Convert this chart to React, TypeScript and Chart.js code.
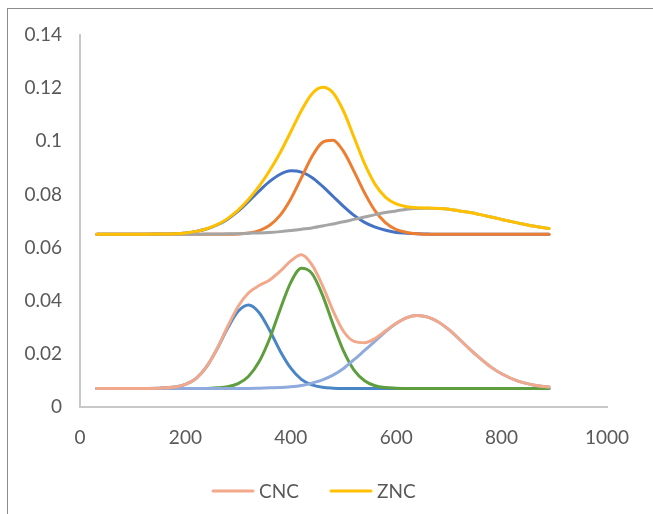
import React, { useEffect, useRef } from 'react';
import { Chart, registerables } from 'chart.js';

Chart.register(...registerables);

// x positions of the sampled points
const X_VALUES = [32, 100, 150, 180, 200, 220, 240, 260, 280, 300, 320, 340, 360, 380, 400, 420, 440, 460, 480, 500, 520, 540, 560, 580, 600, 620, 640, 660, 680, 700, 720, 740, 760, 780, 800, 830, 860, 890];

// CNC (total) and its three components
const CNC = [0.0070, 0.0070, 0.0071, 0.0075, 0.0085, 0.0107, 0.0151, 0.0219, 0.0302, 0.0378, 0.0430, 0.0457, 0.0478, 0.0511, 0.0550, 0.0573, 0.0536, 0.0458, 0.0363, 0.0285, 0.0247, 0.0242, 0.0258, 0.0287, 0.0315, 0.0336, 0.0344, 0.0338, 0.0320, 0.0291, 0.0255, 0.0217, 0.0182, 0.0150, 0.0125, 0.0098, 0.0083, 0.0075];
const CNC_PEAK_1 = [0.0070, 0.0070, 0.0071, 0.0075, 0.0085, 0.0107, 0.0151, 0.0218, 0.0296, 0.0360, 0.0384, 0.0355, 0.0288, 0.0210, 0.0146, 0.0104, 0.0083, 0.0074, 0.0071, 0.0070, 0.0070, 0.0070, 0.0070, 0.0070, 0.0070, 0.0070, 0.0070, 0.0070, 0.0070, 0.0070, 0.0070, 0.0070, 0.0070, 0.0070, 0.0070, 0.0070, 0.0070, 0.0070];
const CNC_PEAK_2 = [0.0070, 0.0070, 0.0070, 0.0070, 0.0070, 0.0070, 0.0070, 0.0072, 0.0076, 0.0088, 0.0116, 0.0171, 0.0258, 0.0368, 0.0469, 0.0522, 0.0503, 0.0422, 0.0312, 0.0211, 0.0139, 0.0099, 0.0080, 0.0073, 0.0071, 0.0070, 0.0070, 0.0070, 0.0070, 0.0070, 0.0070, 0.0070, 0.0070, 0.0070, 0.0070, 0.0070, 0.0070, 0.0070];
const CNC_PEAK_3 = [0.0070, 0.0070, 0.0070, 0.0070, 0.0070, 0.0070, 0.0070, 0.0070, 0.0070, 0.0070, 0.0070, 0.0071, 0.0072, 0.0073, 0.0076, 0.0081, 0.0090, 0.0102, 0.0120, 0.0145, 0.0178, 0.0213, 0.0248, 0.0284, 0.0314, 0.0336, 0.0344, 0.0338, 0.0320, 0.0291, 0.0255, 0.0217, 0.0182, 0.0150, 0.0125, 0.0098, 0.0083, 0.0075];

// ZNC (total) and its three components
const ZNC = [0.0650, 0.0650, 0.0651, 0.0652, 0.0655, 0.0661, 0.0671, 0.0686, 0.0709, 0.0741, 0.0782, 0.0831, 0.0890, 0.0958, 0.1036, 0.1115, 0.1178, 0.1203, 0.1183, 0.1114, 0.1015, 0.0916, 0.0838, 0.0789, 0.0764, 0.0754, 0.0750, 0.0749, 0.0747, 0.0744, 0.0738, 0.0732, 0.0724, 0.0715, 0.0706, 0.0693, 0.0681, 0.0672];
const ZNC_PEAK_1 = [0.0650, 0.0650, 0.0651, 0.0652, 0.0655, 0.0661, 0.0670, 0.0685, 0.0707, 0.0737, 0.0774, 0.0813, 0.0849, 0.0876, 0.0889, 0.0884, 0.0864, 0.0831, 0.0793, 0.0755, 0.0721, 0.0695, 0.0677, 0.0665, 0.0657, 0.0654, 0.0652, 0.0651, 0.0650, 0.0650, 0.0650, 0.0650, 0.0650, 0.0650, 0.0650, 0.0650, 0.0650, 0.0650];
const ZNC_PEAK_2 = [0.0650, 0.0650, 0.0650, 0.0650, 0.0650, 0.0650, 0.0650, 0.0650, 0.0650, 0.0651, 0.0655, 0.0664, 0.0684, 0.0722, 0.0783, 0.0862, 0.0942, 0.0996, 0.1004, 0.0962, 0.0887, 0.0806, 0.0738, 0.0693, 0.0668, 0.0657, 0.0652, 0.0650, 0.0650, 0.0650, 0.0650, 0.0650, 0.0650, 0.0650, 0.0650, 0.0650, 0.0650, 0.0650];
const ZNC_PEAK_3 = [0.0650, 0.0650, 0.0650, 0.0650, 0.0650, 0.0650, 0.0651, 0.0651, 0.0652, 0.0652, 0.0654, 0.0655, 0.0657, 0.0660, 0.0664, 0.0669, 0.0674, 0.0681, 0.0689, 0.0697, 0.0706, 0.0715, 0.0724, 0.0732, 0.0738, 0.0744, 0.0747, 0.0748, 0.0747, 0.0744, 0.0738, 0.0732, 0.0724, 0.0715, 0.0706, 0.0693, 0.0681, 0.0672];

const X_TICK_LABELS = ['0', '200', '400', '600', '800', '1000'];
const Y_TICK_LABELS = ['0', '0.02', '0.04', '0.06', '0.08', '0.1', '0.12', '0.14'];
const LEGEND_SERIES = ['CNC', 'ZNC'];

const FONT = { family: 'Lato', size: 19 };
const TEXT_COLOR = '#595959';
const AXIS_COLOR = '#C8C8C8';

// Legend drawn on the canvas: a short line swatch followed by the series name.
const legendPlugin = {
  id: 'excelLegend',
  afterDraw(chart: any) {
    const { ctx } = chart;
    const y = 491;
    const starts = [213, 331];
    ctx.save();
    ctx.font = `${FONT.size}px ${FONT.family}`;
    ctx.textBaseline = 'middle';
    ctx.textAlign = 'left';
    LEGEND_SERIES.forEach((name, i) => {
      const ds = chart.data.datasets.find((d: any) => d.label === name);
      const x0 = starts[i];
      ctx.strokeStyle = ds.borderColor;
      ctx.lineWidth = 3;
      ctx.lineCap = 'round';
      ctx.beginPath();
      ctx.moveTo(x0, y);
      ctx.lineTo(x0 + 40, y);
      ctx.stroke();
      ctx.fillStyle = TEXT_COLOR;
      ctx.fillText(name, x0 + 46, y + 1);
    });
    ctx.restore();
  },
};

export default function App() {
  const canvasRef = useRef<HTMLCanvasElement | null>(null);

  useEffect(() => {
    const canvas = canvasRef.current;
    if (!canvas) return;
    const toPoints = (ys: number[]) => X_VALUES.map((x, i) => ({ x, y: ys[i] }));
    const series = (label: string, ys: number[], color: string) => ({
      label,
      data: toPoints(ys),
      borderColor: color,
      backgroundColor: color,
      borderWidth: 3,
      pointRadius: 0,
      pointHoverRadius: 0,
      fill: false,
      cubicInterpolationMode: 'monotone' as const,
      borderCapStyle: 'round' as const,
      borderJoinStyle: 'round' as const,
    });

    const chart = new Chart(canvas, {
      type: 'line',
      data: {
        datasets: [
          series('CNC', CNC, '#F2A88A'),
          series('ZNC', ZNC, '#FFC000'),
          series('ZNC peak 3', ZNC_PEAK_3, '#A5A5A5'),
          series('ZNC peak 2', ZNC_PEAK_2, '#ED7D31'),
          series('ZNC peak 1', ZNC_PEAK_1, '#4472C4'),
          series('CNC peak 3', CNC_PEAK_3, '#8FAADC'),
          series('CNC peak 2', CNC_PEAK_2, '#5E9E3E'),
          series('CNC peak 1', CNC_PEAK_1, '#4A86C6'),
        ],
      },
      options: {
        animation: false,
        responsive: false,
        events: [],
        layout: { padding: { left: 0, right: 46, top: 35, bottom: 65 } },
        plugins: {
          tooltip: { enabled: false },
          legend: { display: false },
        },
        scales: {
          x: {
            type: 'linear',
            min: 0,
            max: 1000,
            grid: { display: false, drawTicks: false },
            border: { display: true, color: AXIS_COLOR, width: 2 },
            ticks: {
              stepSize: 200,
              color: TEXT_COLOR,
              font: FONT,
              padding: 19,
              maxRotation: 0,
              callback: (_v: any, i: number) => X_TICK_LABELS[i],
            },
            afterFit: (s: any) => {
              s.height = 42;
            },
          },
          y: {
            type: 'linear',
            min: 0,
            max: 0.14,
            grid: { display: false, drawTicks: false },
            border: { display: true, color: AXIS_COLOR, width: 2 },
            ticks: {
              stepSize: 0.02,
              color: TEXT_COLOR,
              font: FONT,
              padding: 18,
              callback: (_v: any, i: number) => Y_TICK_LABELS[i],
            },
            afterFit: (s: any) => {
              s.width = 80;
            },
          },
        },
      },
      plugins: [legendPlugin],
    } as any);

    return () => chart.destroy();
  }, []);

  return (
    <div style={{ position: 'absolute', left: 0, top: 0, width: 653, height: 514, overflow: 'hidden', background: '#ffffff' }}>
      <div
        style={{
          position: 'absolute',
          left: 7,
          top: 8,
          width: 700,
          height: 600,
          borderLeft: '1px solid #8C8C8C',
          borderTop: '1px solid #8C8C8C',
        }}
      />
      <canvas ref={canvasRef} width={653} height={514} style={{ position: 'absolute', left: 0, top: 0, width: 653, height: 514 }} />
    </div>
  );
}
